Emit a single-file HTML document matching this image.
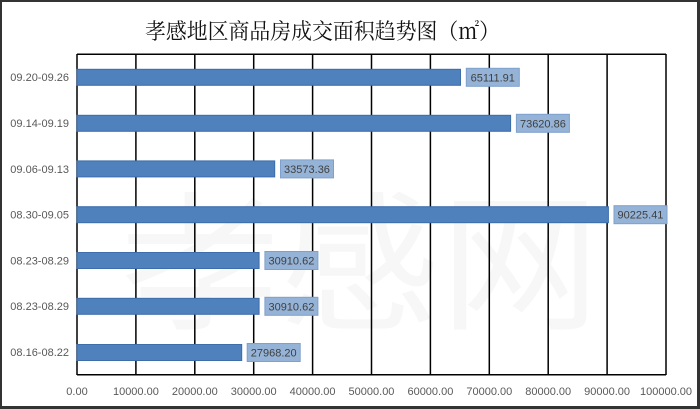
<!DOCTYPE html>
<html>
<head>
<meta charset="utf-8">
<style>
  html,body{margin:0;padding:0;background:#fff;}
  body{width:700px;height:409px;overflow:hidden;}
  svg{display:block;}
</style>
</head>
<body>
<svg width="700" height="409" viewBox="0 0 700 409" xmlns="http://www.w3.org/2000/svg">
  <rect x="0" y="0" width="700" height="409" fill="#ffffff"/>
  <!-- outer border -->
  <rect x="0" y="0" width="700" height="2" fill="#333"/>
  <rect x="0" y="0" width="2" height="409" fill="#333"/>
  <rect x="697" y="0" width="3" height="409" fill="#333"/>
  <rect x="0" y="406" width="700" height="3" fill="#333"/>

  <!-- title -->
  <text x="145" y="39" textLength="355" lengthAdjust="spacingAndGlyphs" font-family="'Noto Serif CJK SC', 'Liberation Serif', serif" font-size="22" font-weight="normal" fill="#111">孝感地区商品房成交面积趋势图（㎡）</text>

  <!-- faint watermark -->
  <text x="120" y="318" font-family="'Noto Sans CJK SC', sans-serif" font-size="150" fill="#f7f7f7" textLength="480" lengthAdjust="spacingAndGlyphs">孝感网</text>

  <!-- gridlines -->
  <g stroke="#000" stroke-width="1.5">
    <line x1="77" y1="54" x2="77" y2="375"/>
    <line x1="135.9" y1="54" x2="135.9" y2="375"/>
    <line x1="194.8" y1="54" x2="194.8" y2="375"/>
    <line x1="253.7" y1="54" x2="253.7" y2="375"/>
    <line x1="312.6" y1="54" x2="312.6" y2="375"/>
    <line x1="371.5" y1="54" x2="371.5" y2="375"/>
    <line x1="430.4" y1="54" x2="430.4" y2="375"/>
    <line x1="489.3" y1="54" x2="489.3" y2="375"/>
    <line x1="548.2" y1="54" x2="548.2" y2="375"/>
    <line x1="607.1" y1="54" x2="607.1" y2="375"/>
    <line x1="666" y1="54" x2="666" y2="375"/>
    <line x1="77" y1="54.3" x2="666" y2="54.3"/>
    <line x1="77" y1="374.7" x2="666" y2="374.7"/>
  </g>

  <!-- bars -->
  <g fill="#4f81bd" stroke="#3d6dab" stroke-width="1">
    <rect x="77" y="69.3" width="383.5" height="16"/>
    <rect x="77" y="115.3" width="433.6" height="16"/>
    <rect x="77" y="160.9" width="197.7" height="16"/>
    <rect x="77" y="206.7" width="531.4" height="16"/>
    <rect x="77" y="252.5" width="182.1" height="16"/>
    <rect x="77" y="298.3" width="182.1" height="16"/>
    <rect x="77" y="344.5" width="164.7" height="16"/>
  </g>

  <!-- data label boxes -->
  <g fill="#95b3d7" stroke="#7fa0cc" stroke-width="1">
    <rect x="466.3" y="68.3" width="53" height="18"/>
    <rect x="516.4" y="114.3" width="53" height="18"/>
    <rect x="280.5" y="159.9" width="53" height="18"/>
    <rect x="614" y="205.7" width="53" height="18"/>
    <rect x="264.9" y="251.5" width="53" height="18"/>
    <rect x="264.9" y="297.3" width="53" height="18"/>
    <rect x="247.2" y="343.5" width="53" height="18"/>
  </g>
  <g font-family="'Liberation Sans', sans-serif" font-size="11" fill="#404040" text-anchor="middle">
    <text x="492.8" y="81.3">65111.91</text>
    <text x="542.9" y="127.3">73620.86</text>
    <text x="307" y="172.9">33573.36</text>
    <text x="640.5" y="218.7">90225.41</text>
    <text x="291.4" y="264.5">30910.62</text>
    <text x="291.4" y="310.3">30910.62</text>
    <text x="273.7" y="356.5">27968.20</text>
  </g>

  <!-- category labels -->
  <g font-family="'Liberation Sans', sans-serif" font-size="11" fill="#595959" text-anchor="end">
    <text x="69" y="81.2">09.20-09.26</text>
    <text x="69" y="127">09.14-09.19</text>
    <text x="69" y="172.8">09.06-09.13</text>
    <text x="69" y="218.6">08.30-09.05</text>
    <text x="69" y="264.4">08.23-08.29</text>
    <text x="69" y="310.2">08.23-08.29</text>
    <text x="69" y="356.2">08.16-08.22</text>
  </g>

  <!-- x tick labels -->
  <g font-family="'Liberation Sans', sans-serif" font-size="11" fill="#595959" text-anchor="middle">
    <text x="77" y="395">0.00</text>
    <text x="135.9" y="395">10000.00</text>
    <text x="194.8" y="395">20000.00</text>
    <text x="253.7" y="395">30000.00</text>
    <text x="312.6" y="395">40000.00</text>
    <text x="371.5" y="395">50000.00</text>
    <text x="430.4" y="395">60000.00</text>
    <text x="489.3" y="395">70000.00</text>
    <text x="548.2" y="395">80000.00</text>
    <text x="607.1" y="395">90000.00</text>
    <text x="666" y="395">100000.00</text>
  </g>
</svg>
</body>
</html>
